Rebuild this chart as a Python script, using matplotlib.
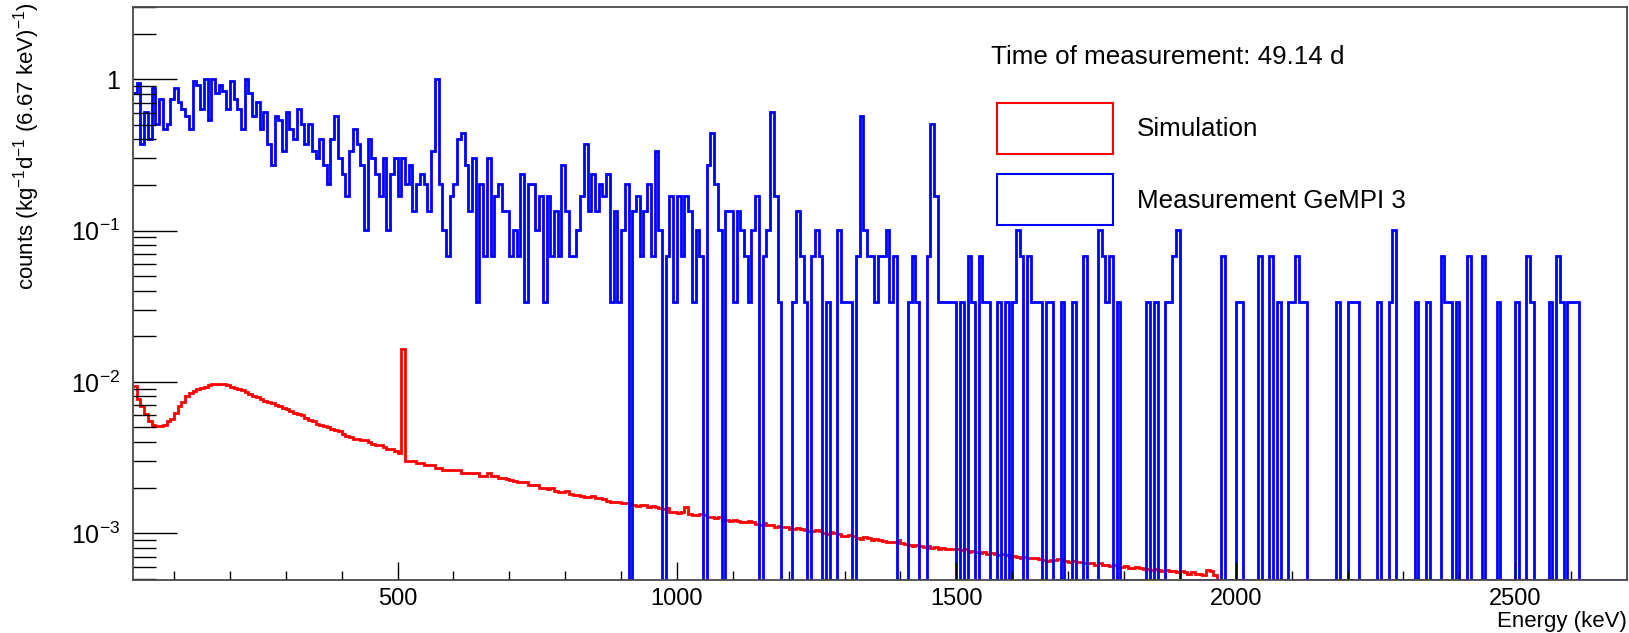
import numpy as np
import matplotlib
matplotlib.use("Agg")
import matplotlib.pyplot as plt
import matplotlib.ticker as ticker
from matplotlib.patches import Rectangle

plt.rcParams['font.family'] = ['Liberation Sans', 'DejaVu Sans']
plt.rcParams['mathtext.default'] = 'regular'

# binning: 6.67 keV bins, first shown bin starts at 26.67 keV, last ends at 2700 keV
bin_width = 20.0 / 3.0
e_start = 80.0 / 3.0
n_bins = 401

# measured spectrum, raw counts per bin (GeMPI 3, 49.14 d)
counts_meas = [
    # 26.67 - 693.3 keV
    24, 28, 11, 18, 12, 26, 15, 22, 14, 15,
    22, 26, 21, 19, 17, 14, 29, 27, 19, 30,
    16, 30, 24, 27, 25, 19, 29, 22, 19, 14,
    30, 24, 17, 21, 14, 18, 11, 8, 17, 16,
    10, 18, 14, 12, 19, 15, 11, 15, 10, 9,
    12, 8, 6, 12, 17, 9, 7, 5, 10, 14,
    11, 8, 3, 12, 9, 7, 5, 9, 3, 7,
    9, 5, 9, 6, 8, 4, 6, 7, 6, 4,
    10, 30, 6, 3, 2, 5, 6, 12, 13, 8,
    4, 9, 1, 6, 2, 9, 2, 5, 6, 4,
    # 693.3 - 1360 keV
    4, 2, 3, 2, 7, 1, 6, 6, 3, 5,
    1, 5, 2, 4, 2, 8, 4, 2, 2, 3,
    5, 11, 4, 7, 4, 6, 5, 7, 1, 4,
    1, 3, 6, 0, 4, 5, 2, 4, 6, 2,
    10, 3, 0, 2, 5, 1, 5, 2, 5, 4,
    1, 3, 2, 0, 8, 13, 6, 3, 0, 4,
    4, 1, 4, 3, 2, 1, 3, 5, 0, 2,
    3, 18, 5, 1, 0, 0, 0, 1, 4, 2,
    1, 0, 2, 3, 2, 0, 1, 0, 0, 3,
    1, 1, 1, 0, 2, 17, 3, 2, 2, 1,
    # 1360 - 2027 keV
    2, 2, 3, 1, 2, 0, 0, 0, 1, 2,
    1, 0, 0, 2, 15, 5, 1, 1, 1, 1,
    1, 0, 1, 0, 2, 1, 0, 2, 1, 1,
    0, 0, 1, 0, 1, 0, 1, 3, 2, 0,
    2, 1, 1, 1, 0, 1, 1, 0, 0, 1,
    0, 0, 1, 0, 0, 2, 0, 0, 0, 3,
    2, 1, 2, 0, 1, 0, 0, 0, 0, 0,
    0, 0, 1, 0, 1, 0, 0, 1, 1, 2,
    3, 0, 0, 0, 0, 0, 0, 0, 0, 0,
    0, 0, 2, 0, 0, 0, 1, 1, 0, 0,
    # 2027 - 2700 keV
    0, 0, 2, 0, 0, 2, 0, 1, 0, 0,
    1, 1, 2, 1, 1, 0, 0, 0, 0, 0,
    0, 0, 0, 1, 0, 0, 1, 1, 1, 0,
    0, 0, 0, 0, 1, 0, 0, 1, 3, 0,
    0, 0, 0, 0, 1, 0, 0, 1, 0, 0,
    0, 2, 1, 1, 0, 1, 0, 0, 2, 0,
    0, 0, 2, 0, 0, 0, 1, 0, 0, 0,
    0, 1, 0, 0, 2, 1, 0, 0, 0, 0,
    1, 0, 2, 1, 0, 1, 1, 1, 0, 0,
    0, 0, 0, 0, 0, 0, 0, 0, 0, 0, 0,
]
exposure = 29.7  # kg*d

# simulated spectrum, counts / (kg d 6.67 keV)
sim_low = [
    0.0094, 0.0077, 0.0069, 0.0061, 0.0055, 0.0052, 0.0051, 0.0051, 0.0052, 0.0055,
    0.0057, 0.0062, 0.0069, 0.0074, 0.0080, 0.0084, 0.0087, 0.0089, 0.0091, 0.0093,
    0.0095, 0.0096, 0.0097, 0.0097, 0.0096, 0.0095, 0.0093, 0.0091, 0.0090, 0.0088,
    0.0085, 0.0083, 0.0081, 0.0079, 0.0077, 0.0075, 0.0074, 0.0072, 0.0070, 0.0069,
    0.0067, 0.0066, 0.0064, 0.0062, 0.0061, 0.0060, 0.0058, 0.0056, 0.0055, 0.0053,
    0.0052, 0.0051, 0.0050, 0.0049, 0.0048, 0.0047, 0.0045, 0.0044, 0.0043, 0.0042,
    0.0042, 0.0041, 0.0041, 0.0040, 0.0039, 0.0038, 0.0038, 0.0037, 0.0036, 0.0036,
    0.0035, 0.0034, 0.0164, 0.0030, 0.0030, 0.0030, 0.0029, 0.0029, 0.0028, 0.0028,
    0.0028, 0.0027, 0.0027, 0.0026, 0.0026, 0.0026, 0.0026, 0.0026, 0.0025, 0.0025,
    0.0025, 0.0025, 0.0025, 0.0024, 0.0024, 0.0025, 0.0024, 0.0024, 0.0023, 0.0023,
]
sim_mid = [
    0.00227, 0.00226, 0.00220, 0.00219, 0.00218, 0.00219, 0.00209, 0.00208, 0.00207, 0.00199,
    0.00198, 0.00197, 0.00199, 0.00189, 0.00188, 0.00187, 0.00189, 0.00180, 0.00179, 0.00178,
    0.00175, 0.00174, 0.00173, 0.00176, 0.00170, 0.00170, 0.00169, 0.00162, 0.00161, 0.00160,
    0.00161, 0.00157, 0.00158, 0.00156, 0.00153, 0.00152, 0.00154, 0.00153, 0.00149, 0.00150,
    0.00148, 0.00146, 0.00145, 0.00147, 0.00138, 0.00137, 0.00136, 0.00137, 0.00149, 0.00133,
    0.00132, 0.00131, 0.00133, 0.00131, 0.00127, 0.00128, 0.00126, 0.00127, 0.00122, 0.00123,
    0.00121, 0.00122, 0.00120, 0.00119, 0.00118, 0.00120, 0.00118, 0.00115, 0.00114, 0.00116,
    0.00114, 0.00113, 0.00110, 0.00111, 0.00109, 0.00110, 0.00107, 0.00106, 0.00108, 0.00106,
    0.00105, 0.00104, 0.00103, 0.00105, 0.00103, 0.00100, 0.00099, 0.00101, 0.00100, 0.00098,
    0.00096, 0.00095, 0.00097, 0.00096, 0.00093, 0.00092, 0.00094, 0.00093, 0.00090, 0.00091,
]
sim_high = [
    0.00090, 0.00089, 0.00088, 0.00087, 0.00088, 0.00090, 0.00086, 0.00085, 0.00083, 0.00082,
    0.00083, 0.00082, 0.00081, 0.00082, 0.00080, 0.00081, 0.00079, 0.00080, 0.00079, 0.00078,
    0.00079, 0.00079, 0.00077, 0.00078, 0.00075, 0.00076, 0.00075, 0.00074, 0.00075, 0.00073,
    0.00074, 0.00073, 0.00072, 0.00073, 0.00072, 0.00070, 0.00071, 0.00070, 0.00069, 0.00070,
    0.00068, 0.00069, 0.00068, 0.00067, 0.00066, 0.00065, 0.00066, 0.00066, 0.00067, 0.00067,
    0.00065, 0.00064, 0.00065, 0.00064, 0.00064, 0.00063, 0.00063, 0.00063, 0.00062, 0.00063,
    0.00062, 0.00062, 0.00061, 0.00062, 0.00060, 0.00060, 0.00061, 0.00059, 0.00059, 0.00060,
    0.00059, 0.00058, 0.00058, 0.00057, 0.00058, 0.00057, 0.00056, 0.00057, 0.00056, 0.00056,
    0.00055, 0.00056, 0.00055, 0.00054, 0.00055, 0.00054, 0.00054, 0.00053, 0.00057, 0.00056,
    0.00053,
]
sim = sim_low + sim_mid + sim_high
sim = sim + [0.0] * (n_bins - len(sim))

ymin, ymax = 4.9e-4, 3.0
edges = e_start + bin_width * np.arange(n_bins + 1)
meas = np.array(counts_meas, dtype=float) / exposure
sim = np.array(sim)
# ROOT draws empty bins at the bottom of a log axis
meas_draw = np.where(meas > 0, meas, ymin)
sim_draw = np.where(sim > 0, sim, ymin)

W, H = 1629, 633
fig = plt.figure(figsize=(W / 100, H / 100), dpi=100)
ax = fig.add_axes([133 / W, 1 - 580 / H, (1627 - 133) / W, (580 - 7) / H])

ax.stairs(sim_draw, edges, baseline=None, color='#ff0000', lw=2.0)
ax.stairs(meas_draw, edges, baseline=None, color='#0000ff', lw=2.0)

ax.set_yscale('log')
ax.set_xlim(e_start, 2700)
ax.set_ylim(ymin, ymax)

ax.xaxis.set_major_locator(ticker.FixedLocator([500, 1000, 1500, 2000, 2500]))
ax.xaxis.set_minor_locator(ticker.FixedLocator([v for v in range(100, 2700, 100) if v % 500]))
ax.xaxis.set_major_formatter(ticker.FixedFormatter(['500', '1000', '1500', '2000', '2500']))

ax.yaxis.set_major_locator(ticker.FixedLocator([1e-3, 1e-2, 1e-1, 1]))
ax.yaxis.set_major_formatter(ticker.FixedFormatter([r'$10^{-3}$', r'$10^{-2}$', r'$10^{-1}$', '1']))
ax.yaxis.set_minor_locator(ticker.LogLocator(base=10, subs=np.arange(2, 10), numticks=20))
ax.yaxis.set_minor_formatter(ticker.NullFormatter())

ax.tick_params(axis='x', which='major', direction='in', length=13, width=1.0, labelsize=17, pad=6)
ax.tick_params(axis='x', which='minor', direction='in', length=6.5, width=1.0)
ax.tick_params(axis='y', which='major', direction='in', length=32, width=1.0, labelsize=18, pad=9)
ax.tick_params(axis='y', which='minor', direction='in', length=16.5, width=1.0)
for s in ax.spines.values():
    s.set_color('#4a4a4a')
    s.set_linewidth(1.3)

fig.text(1627 / W, 1 - 621 / H, 'Energy (keV)', ha='right', va='center', fontsize=16)
fig.text(27 / W, 1 - 2 / H, r'counts (kg$^{-1}$d$^{-1}$ (6.67 keV)$^{-1}$)',
         rotation=90, ha='center', va='top', fontsize=16)

# legend
fig.text(991 / W, 1 - 57 / H, 'Time of measurement: 49.14 d', ha='left', va='center', fontsize=18.7)
fig.add_artist(Rectangle((997 / W, 1 - 154 / H), 116 / W, 51 / H, transform=fig.transFigure,
                         fill=False, ec='#ff0000', lw=1.5))
fig.add_artist(Rectangle((997 / W, 1 - 225 / H), 116 / W, 51 / H, transform=fig.transFigure,
                         fill=False, ec='#0000ff', lw=1.5))
fig.text(1137 / W, 1 - 129 / H, 'Simulation', ha='left', va='center', fontsize=18.7)
fig.text(1137 / W, 1 - 201 / H, 'Measurement GeMPI 3', ha='left', va='center', fontsize=18.7)

fig.savefig('out.png', dpi=100)
